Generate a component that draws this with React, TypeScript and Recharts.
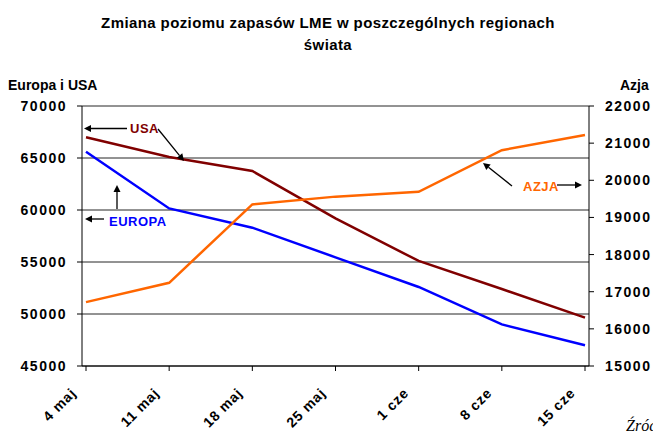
import React from "react"
import {
  LineChart,
  Line,
  XAxis,
  YAxis,
  CartesianGrid
} from "recharts"

const weeks = ["4 maj", "11 maj", "18 maj", "25 maj", "1 cze", "8 cze", "15 cze"]
const usa = [67000, 65100, 63750, 59200, 55100, 52400, 49650]
const europa = [65600, 60150, 58300, 55450, 52600, 49000, 47000]
const azja = [16720, 17240, 19350, 19560, 19690, 20810, 21220]

const leftTicks = [45000, 50000, 55000, 60000, 65000, 70000]
const rightTicks = [15000, 16000, 17000, 18000, 19000, 20000, 21000, 22000]

const data = weeks.map((w, i) => ({
  week: w,
  usa: usa[i],
  europa: europa[i],
  azja: azja[i]
}))

const FONT = "'Liberation Sans', Arial, sans-serif"

const XTick = ({ x, y, payload }: any) => (
  <g transform={`translate(${x - 9},${y + 21})`}>
    <text
      textAnchor="end"
      transform="rotate(-45)"
      fontFamily={FONT}
      fontWeight="bold"
      fontSize={14}
      letterSpacing={0.8}
      fill="#000"
    >
      {payload.value}
    </text>
  </g>
)

const Arrow = ({ x1, y1, x2, y2 }: any) => {
  const a = Math.atan2(y2 - y1, x2 - x1)
  const len = 7
  const w = 3.5
  const bx = x2 - len * Math.cos(a)
  const by = y2 - len * Math.sin(a)
  const px = -Math.sin(a) * w
  const py = Math.cos(a) * w
  return (
    <g>
      <line x1={x1} y1={y1} x2={bx} y2={by} stroke="#000" strokeWidth={1.3} />
      <polygon
        points={`${x2},${y2} ${bx + px},${by + py} ${bx - px},${by - py}`}
        fill="#000"
      />
    </g>
  )
}

const tickStyle = {
  fill: "#000",
  fontFamily: FONT,
  fontWeight: "bold",
  fontSize: 14,
  letterSpacing: 1.5
}

export default function App() {
  return (
    <div
      style={{
        position: "absolute",
        left: 0,
        top: 0,
        width: 653,
        height: 434,
        background: "#fff",
        overflow: "hidden"
      }}
    >
      <LineChart
        width={653}
        height={434}
        data={data}
        margin={{ top: 106, right: 0, bottom: 0, left: 0 }}
      >
        <CartesianGrid
          yAxisId="left"
          vertical={false}
          stroke="#000"
          strokeOpacity={0.85}
        />
        <XAxis
          dataKey="week"
          height={68}
          padding={{ left: 4, right: 4 }}
          axisLine={{ stroke: "#000" }}
          tickLine={{ stroke: "#000" }}
          tickSize={5}
          interval={0}
          tick={<XTick />}
        />
        <YAxis
          yAxisId="left"
          width={82}
          domain={[45000, 70000]}
          ticks={leftTicks}
          interval={0}
          axisLine={{ stroke: "#000" }}
          tickLine={{ stroke: "#000" }}
          tickSize={5}
          tickMargin={10}
          tick={tickStyle}
        />
        <YAxis
          yAxisId="right"
          orientation="right"
          width={64}
          domain={[15000, 22000]}
          ticks={rightTicks}
          interval={0}
          axisLine={{ stroke: "#000" }}
          tickLine={{ stroke: "#000" }}
          tickSize={5}
          tickMargin={11}
          tick={tickStyle}
        />
        <Line
          yAxisId="left"
          dataKey="usa"
          stroke="#800000"
          strokeWidth={2.5}
          dot={false}
          isAnimationActive={false}
        />
        <Line
          yAxisId="left"
          dataKey="europa"
          stroke="#0000FF"
          strokeWidth={2.5}
          dot={false}
          isAnimationActive={false}
        />
        <Line
          yAxisId="right"
          dataKey="azja"
          stroke="#FF6600"
          strokeWidth={2.5}
          dot={false}
          isAnimationActive={false}
        />
      </LineChart>
      <svg
        width={653}
        height={434}
        style={{ position: "absolute", left: 0, top: 0, pointerEvents: "none" }}
      >
        <g fontFamily={FONT} fontWeight="bold">
          <g fontSize={15} letterSpacing={0.4} fill="#000" textAnchor="middle">
            <text x={328} y={28}>
              Zmiana poziomu zapasów LME w poszczególnych regionach
            </text>
            <text x={328} y={50}>świata</text>
          </g>
          <text x={8} y={90} fill="#000" fontSize={14}>Europa i USA</text>
          <text x={620} y={90} fill="#000" fontSize={14}>Azja</text>
          <g fontSize={13} letterSpacing={0.5}>
            <text x={130} y={133} fill="#800000">USA</text>
            <text x={109} y={226} fill="#0000FF">EUROPA</text>
            <text x={523} y={191} fill="#FF6600">AZJA</text>
          </g>
        </g>
        <Arrow x1={127} y1={128.5} x2={84} y2={128.5} />
        <Arrow x1={158} y1={129} x2={184} y2={161} />
        <Arrow x1={104} y1={219} x2={85} y2={219} />
        <Arrow x1={117} y1={209} x2={117} y2={185} />
        <Arrow x1={557} y1={185} x2={582} y2={185} />
        <Arrow x1={512} y1={186} x2={483} y2={163} />
        <text
          x={626}
          y={431}
          fontFamily="'Liberation Serif', 'Times New Roman', serif"
          fontStyle="italic"
          fontSize={16}
          fill="#000"
        >
          Źródło
        </text>
      </svg>
    </div>
  )
}
